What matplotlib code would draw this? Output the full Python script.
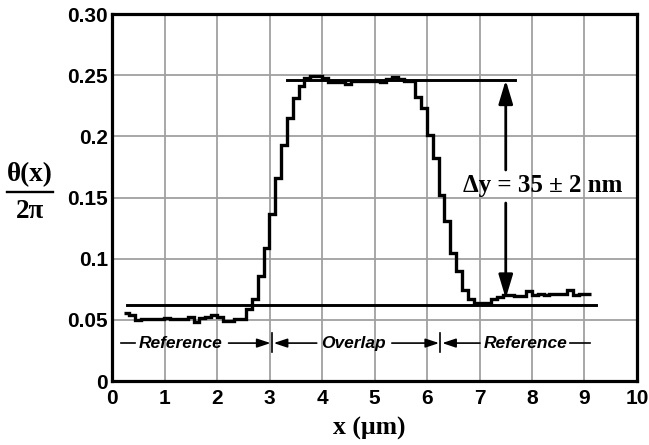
import matplotlib
matplotlib.use("Agg")
import matplotlib.pyplot as plt
from matplotlib.lines import Line2D

# ---- data ----
x_edges = [0.220, 0.331, 0.442, 0.553, 0.664, 0.776, 0.887, 0.998, 1.109, 1.220,
           1.331, 1.442, 1.553, 1.664, 1.776, 1.887, 1.998, 2.109, 2.220, 2.331,
           2.442, 2.553, 2.664, 2.776, 2.887, 2.998, 3.109, 3.220, 3.331, 3.442,
           3.553, 3.664, 3.776, 3.887, 3.998, 4.109, 4.220, 4.331, 4.442, 4.553,
           4.664, 4.776, 4.887, 4.998, 5.109, 5.220, 5.331, 5.442, 5.553, 5.664,
           5.776, 5.887, 5.998, 6.109, 6.220, 6.331, 6.442, 6.553, 6.664, 6.776,
           6.887, 6.998, 7.109, 7.220, 7.331, 7.442, 7.553, 7.664, 7.776, 7.887,
           7.998, 8.109, 8.220, 8.331, 8.442, 8.553, 8.664, 8.776, 8.887, 8.998,
           9.130]
theta_values = [0.0560, 0.0540, 0.0495, 0.0510, 0.0510, 0.0505, 0.0510, 0.0515, 0.0510, 0.0505,
                0.0510, 0.0520, 0.0485, 0.0515, 0.0520, 0.0540, 0.0520, 0.0490, 0.0490, 0.0505,
                0.0510, 0.0585, 0.0670, 0.0860, 0.1090, 0.1365, 0.1657, 0.1930, 0.2148, 0.2317,
                0.2415, 0.2475, 0.2490, 0.2490, 0.2475, 0.2445, 0.2445, 0.2445, 0.2425, 0.2450,
                0.2450, 0.2455, 0.2455, 0.2455, 0.2445, 0.2470, 0.2485, 0.2465, 0.2455, 0.2455,
                0.2325, 0.2230, 0.2010, 0.1820, 0.1520, 0.1310, 0.1044, 0.0900, 0.0744, 0.0668,
                0.0640, 0.0635, 0.0635, 0.0670, 0.0690, 0.0705, 0.0700, 0.0695, 0.0695, 0.0738,
                0.0700, 0.0715, 0.0705, 0.0712, 0.0715, 0.0715, 0.0745, 0.0705, 0.0715, 0.0715]

ref_low_level = 0.062
ref_low_span = [0.28, 9.22]
ref_high_level = 0.246
ref_high_span = [3.33, 7.68]

x_ticks = [0, 1, 2, 3, 4, 5, 6, 7, 8, 9, 10]
y_ticks = [0, 0.05, 0.1, 0.15, 0.2, 0.25, 0.30]
y_tick_labels = ["0", "0.05", "0.1", "0.15", "0.2", "0.25", "0.30"]

region_labels = ["Reference", "Overlap", "Reference"]
region_bounds = [3.04, 6.25]

delta_label = "\u0394y = 35 \u00b1 2 nm"

# ---- figure ----
fig = plt.figure(figsize=(6.49, 4.45), dpi=100)
ax = fig.add_axes([0.1726, 0.1438, 0.8089, 0.8247])

sans = "Liberation Sans"
serif = "Liberation Serif"

ax.set_xlim(0, 10)
ax.set_ylim(0, 0.30)
ax.set_xticks(x_ticks)
ax.set_yticks(y_ticks)
ax.set_yticklabels(y_tick_labels)
ax.grid(True, color="#a0a0a0", lw=1.3)
ax.set_axisbelow(True)
for s in ax.spines.values():
    s.set_linewidth(2.3)
    s.set_color("black")
ax.tick_params(length=0, pad=3)
ax.tick_params(axis="x", pad=5.5)
for lab in ax.get_xticklabels() + ax.get_yticklabels():
    lab.set_fontfamily(sans)
    lab.set_fontweight("bold")
    lab.set_fontsize(15)

# data trace
ax.stairs(theta_values, x_edges, baseline=None, color="black", lw=2.4, zorder=3)

# reference lines
ax.plot(ref_low_span, [ref_low_level, ref_low_level], color="black", lw=2.1, zorder=3)
ax.plot(ref_high_span, [ref_high_level, ref_high_level], color="black", lw=2.1, zorder=3)

# delta arrows
arr = dict(arrowstyle="-|>,head_length=1.1,head_width=0.33", color="black", lw=2.0,
           mutation_scale=13, shrinkA=0, shrinkB=0)
ax.annotate("", xy=(7.5, ref_high_level), xytext=(7.5, 0.1725), arrowprops=arr, zorder=4)
ax.annotate("", xy=(7.5, 0.0675), xytext=(7.5, 0.1455), arrowprops=arr, zorder=4)
ax.text(8.2, 0.1595, delta_label, ha="center", va="center", fontsize=18,
        fontfamily=serif, fontweight="bold", zorder=5)

# region annotations
ry = 0.031
tfont = dict(fontfamily=sans, fontweight="bold", fontstyle="italic", fontsize=12.5,
             ha="center", va="center")
small = dict(arrowstyle="-|>,head_length=0.9,head_width=0.3", color="black", lw=1.2,
             mutation_scale=9, shrinkA=0, shrinkB=0)
ax.plot([0.18, 0.44], [ry, ry], color="black", lw=1.2)
ax.text(1.31, ry, region_labels[0], **tfont)
ax.annotate("", xy=(region_bounds[0] - 0.02, ry), xytext=(2.22, ry), arrowprops=small)
ax.plot([region_bounds[0]] * 2, [0.024, 0.039], color="black", lw=1.2)
ax.annotate("", xy=(region_bounds[0] + 0.04, ry), xytext=(3.9, ry), arrowprops=small)
ax.text(4.6, ry, region_labels[1], **tfont)
ax.annotate("", xy=(region_bounds[1] - 0.02, ry), xytext=(5.33, ry), arrowprops=small)
ax.plot([region_bounds[1]] * 2, [0.024, 0.039], color="black", lw=1.2)
ax.annotate("", xy=(region_bounds[1] + 0.04, ry), xytext=(7.01, ry), arrowprops=small)
ax.text(7.88, ry, region_labels[2], **tfont)
ax.plot([8.72, 9.10], [ry, ry], color="black", lw=1.2)

# axis labels
fig.text(0.569, 0.038, "x (\u03bcm)", ha="center", va="center", fontsize=18.5,
         fontfamily=serif, fontweight="bold")
fig.text(0.046, 0.607, "\u03b8(x)", ha="center", va="center", fontsize=19.5,
         fontfamily=serif, fontweight="bold")
fig.add_artist(Line2D([0.011, 0.082], [0.5685, 0.5685], color="black", lw=1.7,
                      transform=fig.transFigure))
fig.text(0.046, 0.524, "2\u03c0", ha="center", va="center", fontsize=19.5,
         fontfamily=serif, fontweight="bold")

fig.savefig("out.png", dpi=100)
